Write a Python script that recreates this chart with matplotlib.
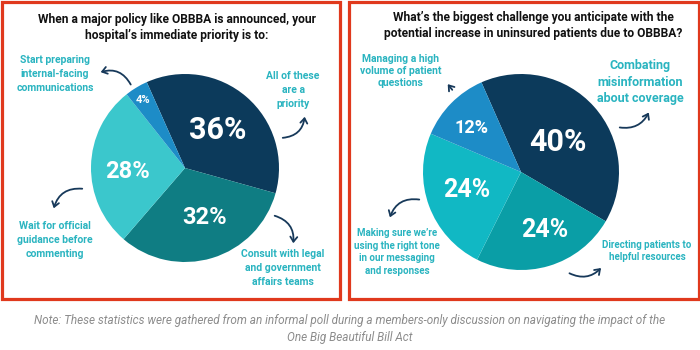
import matplotlib
matplotlib.use("Agg")
import matplotlib.pyplot as plt
from matplotlib.patches import Rectangle, FancyArrowPatch

# ---------------- data ----------------
left_title = "When a major policy like OBBBA is announced, your\nhospital\u2019s immediate priority is to:"
left_labels = ["All of these\nare a\npriority",
               "Consult with legal\nand government\naffairs teams",
               "Wait for official\nguidance before\ncommenting",
               "Start preparing\ninternal-facing\ncommunications"]
left_values = [36, 32, 28, 4]
left_colors = ["#0C3A5B", "#0F7D83", "#3BC7CC", "#1D8CC7"]

right_title = "What\u2019s the biggest challenge you anticipate with the\npotential increase in uninsured patients due to OBBBA?"
right_labels = ["Combating\nmisinformation\nabout coverage",
                "Directing patients to\nhelpful resources",
                "Making sure we\u2019re\nusing the right tone\nin our messaging\nand responses",
                "Managing a high\nvolume of patient\nquestions"]
right_values = [40, 24, 24, 12]
right_colors = ["#0C3A5B", "#0A9EA6", "#11B8C4", "#1D8CC7"]

note = ("Note: These statistics were gathered from an informal poll during a members-only discussion on navigating the impact of the\n"
        "One Big Beautiful Bill Act")

FONT = ["Roboto", "DejaVu Sans"]
LABEL_C = "#2AB4C0"
ARROW_C = "#17395A"
RED = "#E0391D"

W, H = 700, 350
fig = plt.figure(figsize=(7, 3.5), dpi=100)
fig.patch.set_facecolor("white")


def pie_axes(cx, cy, r):
    ax = fig.add_axes([(cx - r) / W, (H - cy - r) / H, 2 * r / W, 2 * r / H])
    ax.axis("off")
    return ax

# left pie
axL = pie_axes(185, 168, 94)
axL.pie(left_values, colors=left_colors, startangle=114, counterclock=False,
        radius=1, wedgeprops=dict(linewidth=0))
axL.set_xlim(-1, 1); axL.set_ylim(-1, 1)

# right pie
axR = pie_axes(521, 172, 98)
axR.pie(right_values, colors=right_colors, startangle=113.8, counterclock=False,
        radius=1, wedgeprops=dict(linewidth=0))
axR.set_xlim(-1, 1); axR.set_ylim(-1, 1)

# overlay for text, arrows and frames
fg = fig.add_axes([0, 0, 1, 1])
fg.set_xlim(0, W)
fg.set_ylim(H, 0)
fg.axis("off")
fg.patch.set_alpha(0)

fg.add_patch(Rectangle((1.5, 1.5), 338, 297, fill=False, edgecolor=RED, lw=2.3))
fg.add_patch(Rectangle((348.5, 1.5), 350, 297, fill=False, edgecolor=RED, lw=2.3))

# titles
fg.text(177, 27, left_title, ha="center", va="center", fontsize=8.65, fontweight="bold",
        family=FONT, color="#111111", linespacing=1.3)
fg.text(533, 26, right_title, ha="center", va="center", fontsize=8.65, fontweight="bold",
        family=FONT, color="#111111", linespacing=1.3)

# percentages
pctL = [(218, 130, 22), (205, 217, 17), (128, 172, 17), (143, 100, 8)]
for v, (x, y, s) in zip(left_values, pctL):
    fg.text(x, y, f"{v}%", ha="center", va="center", fontsize=s, fontweight="bold",
            family=FONT, color="white")
pctR = [(558, 142, 22), (545, 230, 18), (467, 190, 18), (472, 128, 13)]
for v, (x, y, s) in zip(right_values, pctR):
    fg.text(x, y, f"{v}%", ha="center", va="center", fontsize=s, fontweight="bold",
            family=FONT, color="white")

# category labels
labL = [(293, 90, 7.5, 1.45), (283, 268, 7.5, 1.45), (55, 240, 7.5, 1.45), (55, 74, 7.5, 1.45)]
for t, (x, y, s, ls) in zip(left_labels, labL):
    fg.text(x, y, t, ha="center", va="center", fontsize=s, fontweight="bold",
            family=FONT, color=LABEL_C, linespacing=ls)
labR = [(640, 82, 9, 1.35), (647, 251, 7, 1.35), (397, 252, 7, 1.35), (401, 71, 7.5, 1.3)]
for t, (x, y, s, ls) in zip(right_labels, labR):
    fg.text(x, y, t, ha="center", va="center", fontsize=s, fontweight="bold",
            family=FONT, color=LABEL_C, linespacing=ls)

# arrows
arrows = [
    ((132, 87), (98, 73), 0.45),
    ((280, 138), (305, 114), 0.45),
    ((85, 189), (53, 211), 0.45),
    ((272, 215), (293, 246), -0.45),
    ((454, 92), (446, 82), 0.0),
    ((617, 127), (650, 110), 0.4),
    ((422, 200), (389, 220), 0.45),
    ((567, 272), (603, 266), 0.4),
]
for a, b, rad in arrows:
    fg.add_patch(FancyArrowPatch(a, b, connectionstyle=f"arc3,rad={rad}",
                                 arrowstyle="->,head_length=3.5,head_width=2.5",
                                 color=ARROW_C, lw=1.3, mutation_scale=1))

# note
fg.text(350, 329, note, ha="center", va="center", fontsize=8.5, style="italic",
        family=FONT, color="#8C8C8C", linespacing=1.35)

fig.savefig("out.png", dpi=100, facecolor="white")
